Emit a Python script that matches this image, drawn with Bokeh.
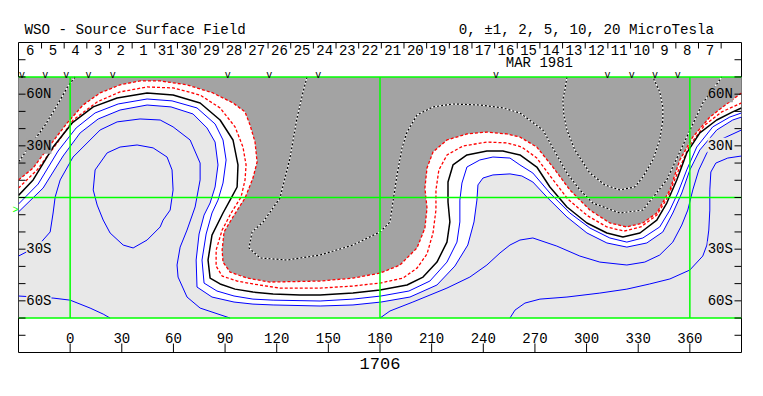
import math
from bokeh.plotting import figure
from bokeh.models import Range1d, LinearAxis, FixedTicker, BoxAnnotation, Title
from bokeh.core.properties import value
from bokeh.embed import file_html
from bokeh.resources import INLINE

# ---------------- data (Carrington longitude, latitude) ----------------
# neutral line (0 microtesla)
NEUTRAL_LON = [-30, -21.5, -9.9, 1.2, 13.4, 27.3, 44.7, 59.8, 75.5, 87.1, 94.6, 97.5, 97.0, 92.9, 88.8, 82.4, 80.1, 81.3,
               87.1, 95.8, 106.2, 117.9, 133.5, 145.2, 164.3, 180.0, 195.7, 205.0, 213.1, 218.9, 220.6, 219.5, 219.5,
               222.4, 230.5, 242.1, 251.4, 261.3, 271.1, 278.7, 288.6, 300.2, 311.8, 321.1, 331.0, 340.8, 346.6, 352.4,
               358.2, 365.8, 375.6, 384.9, 390]
NEUTRAL_LAT = [1.2, 10.2, 29.3, 43.3, 52.6, 57.8, 60.7, 59.5, 54.9, 45.0, 33.4, 18.9, 6.1, -1.5, -9.0, -21.8, -36.3, -46.8,
               -50.2, -53.2, -54.9, -56.1, -56.6, -56.6, -55.5, -53.7, -50.8, -46.2, -37.5, -25.9, -14.2, -2.6, 9.0,
               18.9, 24.7, 27.0, 27.0, 24.7, 17.7, 6.1, -5.5, -14.8, -20.6, -22.9, -20.6, -13.1, -3.2, 10.2,
               25.9, 37.5, 45.0, 49.7, 52.0]

# -1 microtesla
NEG1_LON = [-30, -19.2, -7.5, 1.7, 15.7, 29.0, 44.7, 59.8, 75.5, 87.1, 95.8, 100.4, 102.2, 101.6, 99.3, 93.5, 88.3, 84.8,
            84.8, 88.3, 97.0, 106.2, 121.9, 145.2, 164.3, 180.0, 193.3, 201.5, 207.3, 210.8, 212.5, 212.5, 214.2, 218.9,
            228.2, 242.1, 253.7, 262.4, 271.1, 279.3, 289.1, 300.7, 311.8, 321.7, 331.5, 340.8, 347.2, 353.0, 360.0,
            368.7, 378.5, 390]
NEG1_LAT = [5.5, 16.0, 31.7, 45.0, 55.5, 61.3, 64.2, 63.6, 59.5, 52.0, 41.0, 29.3, 18.9, 10.2, 0.3, -9.0, -18.9, -30.5,
            -39.8, -45.6, -48.5, -50.2, -52.6, -52.6, -51.4, -49.7, -46.8, -41.0, -32.8, -20.6, -7.3, 4.4, 16.0, 24.7,
            29.9, 32.2, 31.7, 29.3, 22.9, 11.9, -0.9, -10.7, -17.1, -19.5, -17.1, -10.2, 0.3, 14.8, 30.5,
            42.1, 49.7, 54.9]

# -2 microtesla (edge of the dark negative area)
NEG2_LON = [-30, -21.5, -11.6, -1.7, 7.5, 17.4, 29.0, 40.6, 52.3, 67.9, 83.0, 94.6, 101.6, 104.5, 107.4, 108.6, 106.2,
            101.6, 94.6, 89.4, 88.3, 88.8, 92.9, 102.8, 116.1, 145.2, 164.3, 180.0, 191.6, 201.5, 206.1, 207.3, 206.1,
            207.3, 210.8, 218.9, 230.5, 242.1, 253.7, 261.3, 271.1, 280.4, 290.3, 301.9, 313.5, 323.4, 332.7, 340.8,
            348.4, 354.2, 361.7, 371.6, 381.4, 390]
NEG2_LAT = [10.2, 17.1, 30.5, 43.3, 53.7, 60.7, 65.4, 67.7, 67.7, 65.4, 60.7, 54.9, 49.7, 42.1, 32.2, 20.6, 11.3,
            -0.3, -11.3, -20.0, -30.5, -37.5, -43.3, -46.8, -49.1, -48.5, -46.8, -43.9, -39.2, -29.3, -17.7, -6.1, 5.5,
            17.1, 26.4, 33.4, 36.9, 38.0, 36.9, 35.1, 29.3, 17.7, 4.4, -7.3, -14.8, -17.1, -14.8, -9.0,
            4.4, 21.8, 35.1, 46.7, 54.3, 60.7]

# +1 microtesla
POS1_LON = [-30, -18.6, -7.0, 3.5, 14.5, 27.9, 44.7, 59.2, 73.7, 84.2, 88.8, 90.6, 88.8, 85.9, 82.4, 79.0, 76.6, 77.8,
            85.3, 95.2, 106.2, 117.9, 145.2, 164.3, 180.6, 196.8, 209.0, 218.9, 224.7, 226.4, 226.4, 227.6, 230.5,
            238.0, 245.6, 255.5, 261.3, 268.8, 278.7, 290.3, 301.9, 313.5, 323.4, 332.7, 342.5, 348.4, 353.0, 358.2,
            364.0, 373.3, 383.2, 390]
POS1_LAT = [-3.8, 7.8, 27.0, 40.4, 49.1, 54.3, 57.2, 56.1, 52.0, 42.7, 33.4, 21.8, 8.4, -1.5, -9.0, -21.2, -36.3, -49.7,
            -54.3, -57.2, -59.0, -59.6, -60.1, -59.0, -57.2, -54.3, -48.5, -37.5, -25.9, -14.2, -1.5, 8.4, 17.7,
            21.8, 23.5, 22.9, 18.9, 14.2, 2.6, -9.0, -17.7, -23.5, -25.9, -23.5, -17.1, -7.3, 2.6, 16.0,
            29.3, 41.0, 46.7, 49.1]

# +2 microtesla (edge of the light positive area)
POS2_LON = [-30, -15.7, -4.1, 5.8, 16.3, 29.0, 44.7, 58.6, 71.4, 79.5, 84.2, 85.9, 84.2, 81.3, 77.8, 74.9, 73.2, 73.7,
            82.4, 95.2, 106.2, 117.9, 145.2, 164.3, 180.6, 197.4, 213.1, 223.5, 231.0, 234.6, 236.3, 236.9, 239.8,
            245.6, 255.5, 262.4, 268.8, 276.9, 288.6, 300.2, 311.8, 323.4, 335.0, 344.3, 350.1, 355.3, 360.0, 365.8,
            375.6, 384.9, 390]
POS2_LAT = [-8.4, 5.5, 24.1, 37.5, 45.6, 50.8, 53.7, 52.6, 48.5, 40.4, 32.2, 18.9, 6.1, -3.2, -10.2, -21.2, -36.3, -52.0,
            -57.8, -60.7, -61.9, -62.4, -63.0, -62.4, -60.7, -57.8, -50.8, -39.8, -27.6, -14.2, -1.5, 7.3, 11.3,
            13.1, 13.7, 12.5, 9.0, 0.3, -11.3, -20.6, -26.4, -28.8, -26.4, -20.0, -9.0, 2.6, 16.0, 27.6,
            39.2, 45.0, 46.7]

# +5 microtesla, western arc and eastern branch
POS5W_LON = [-30, -23.2, -16.8, -11.6, -9.9, -8.7, -5.8, 1.7, 17.4, 27.3, 40.6, 52.3, 59.8, 69.7, 75.5, 75.5, 72.6,
             67.9, 63.9, 62.1, 62.7, 67.9, 75.5, 92.9]
POS5W_LAT = [-34.0, -30.5, -25.9, -20.0, -9.0, 0.3, 10.2, 23.5, 39.2, 43.9, 45.6, 45.0, 41.0, 33.4, 20.0, 10.2, -5.5,
             -18.9, -28.8, -39.2, -46.2, -57.8, -64.2, -70.0]
POS5E_LON = [180.0, 185.8, 199.1, 218.9, 232.2, 242.1, 249.7, 255.5, 261.3, 268.8, 282.7, 296.1, 307.7, 323.4, 333.8,
             342.5, 350.1, 355.3, 358.8, 361.7, 365.2, 369.9, 377.4, 390]
POS5E_LAT = [-70.0, -65.9, -60.7, -52.6, -46.2, -39.2, -32.2, -27.6, -24.7, -23.5, -28.2, -34.0, -37.5, -39.2, -37.5,
             -33.4, -25.9, -16.0, -7.3, 4.4, 16.0, 25.9, 33.4, 39.2]

# +10 microtesla: closed loop, south-west piece, eastern piece
POS10L_LON = [38.9, 48.2, 56.3, 59.2, 59.8, 58.1, 54.0, 52.3, 44.7, 36.6, 30.8, 23.2, 19.2, 15.7, 13.4, 14.5, 21.5,
              29.0, 38.9]
POS10L_LAT = [30.5, 28.8, 23.5, 16.0, 4.4, -7.3, -13.1, -17.1, -24.7, -29.3, -27.6, -20.6, -13.1, -4.4, 4.4, 16.0,
              25.9, 29.3, 30.5]
POS10SW_LON = [-30, -20.3, -9.9, 0.0, 11.6, 19.2, 23.2]
POS10SW_LAT = [-57.2, -57.8, -58.4, -59.6, -64.2, -67.7, -70.0]
POS10E_LON = [390, 382.0, 375.1, 372.2, 371.6, 371.6, 371.0, 369.9, 367.5, 360.0, 348.4, 336.7, 323.4, 307.7, 288.6,
              272.9, 264.2, 258.4, 255.5]
POS10E_LAT = [24.1, 22.9, 20.0, 14.8, 4.4, -7.3, -18.9, -27.6, -34.0, -42.1, -47.3, -50.2, -53.2, -55.5, -57.8,
              -59.0, -61.3, -65.4, -70.0]

# -5 microtesla (two pieces) and -10 microtesla
NEG5W_LON = [2.9, -1.2, -5.8, -9.9, -14.5, -20.3, -25.0, -30]
NEG5W_LAT = [70.0, 64.8, 56.6, 49.7, 42.1, 34.0, 27.6, 20.6]
NEG5C_LON = [137.6, 135.3, 131.8, 127.7, 121.9, 112.1, 105.7, 103.9, 110.3, 126.0, 145.2, 164.3, 180.0, 185.8, 187.5,
             189.9, 192.8, 195.7, 201.5, 210.8, 222.4, 238.0, 251.4, 261.3, 274.6, 288.6, 296.1, 303.6, 319.3, 332.7,
             346.6, 358.2, 367.5, 377.4, 378.5]
NEG5C_LAT = [70.0, 61.3, 46.2, 22.9, -0.3, -14.2, -20.0, -29.3, -35.1, -36.3, -33.4, -27.6, -20.0, -14.2, -2.6,
             13.1, 28.8, 38.0, 47.9, 52.6, 54.3, 53.7, 52.0, 49.1, 39.2, 14.2, 4.4, -3.2, -9.0, -7.3,
             10.2, 35.1, 54.9, 68.3, 70.0]
NEG10_LON = [288.6, 287.4, 286.2, 286.8, 288.6, 293.2, 301.9, 310.6, 319.3, 328.0, 332.7, 338.5, 342.5, 344.3, 344.3,
             342.5, 338.5]
NEG10_LAT = [70.0, 62.4, 56.6, 47.9, 39.2, 27.6, 14.2, 7.3, 4.4, 6.1, 11.9, 21.8, 33.4, 45.0, 52.6, 61.3, 70.0]

# axes, calendar and observation marks
LAT_TICKS = [-80, -70, -60, -50, -40, -30, -20, -10, 0, 10, 20, 30, 40, 50, 60, 70, 80]
LON_TICKS = [0, 30, 60, 90, 120, 150, 180, 210, 240, 270, 300, 330, 360]
LON_TICK_LABELS = [str(t) for t in LON_TICKS]
LAT_LABEL_VALUES = [60, 30, -30, -60]
LAT_LABELS = ["60N", "30N", "30S", "60S"]
GRID_LONS = [0, 180, 360]
GRID_LATS = [-70, 0, 70]
DAYS = ["6", "5", "4", "3", "2", "1", "31", "30", "29", "28", "27", "26", "25", "24", "23", "22",
        "21", "20", "19", "18", "17", "16", "15", "14", "13", "12", "11", "10", "9", "8", "7"]
DAY0_LON = -23.2      # longitude under the first day label
DEG_PER_DAY = 13.16
OBS_LON = [-28.0, -14.5, -2.3, 10.6, 24.8, 91.6, 115.7, 144.2, 247.4, 312.2, 326.2, 339.7, 352.9]
EARTH_LAT = -7.3
MONTH = "MAR 1981"
MONTH_LON = 272.6
ROTATION = "1706"
TITLE_LEFT = "WSO - Source Surface Field"
TITLE_RIGHT = "0, \u00b11, 2, 5, 10, 20 MicroTesla"

# ---------------- figure ----------------
LON_MIN, LON_MAX = -30, 390
LAT_MIN, LAT_MAX = -90, 90
MAP_LAT = 70
DARK = "#a3a3a3"
LIGHT = "#e8e8e8"
GREEN = "#00ff00"
BLUE = "#0000ff"
RED = "#ff0000"
FONT = "Liberation Mono"

p = figure(frame_width=723, frame_height=310,
           x_range=Range1d(LON_MIN, LON_MAX), y_range=Range1d(LAT_MIN, LAT_MAX),
           output_backend="svg", toolbar_location=None, title=None,
           x_axis_location=None, y_axis_location=None,
           min_border_left=18, min_border_right=12, min_border_top=42, min_border_bottom=32)
p.xgrid.visible = False
p.ygrid.visible = False
p.background_fill_color = "white"
p.border_fill_color = "white"
p.outline_line_color = "black"
p.outline_line_width = 1

# shading
p.add_layout(BoxAnnotation(bottom=-MAP_LAT, top=MAP_LAT, fill_color=LIGHT, fill_alpha=1.0,
                           line_color=None, level="underlay"))
p.patch(POS2_LON + [LON_MAX, LON_MIN], POS2_LAT + [MAP_LAT, MAP_LAT], fill_color="white", line_color=None)
p.patch(NEG2_LON + [LON_MAX, LON_MIN], NEG2_LAT + [MAP_LAT, MAP_LAT], fill_color=DARK, line_color=None)

# contours
for xs, ys in [(POS1_LON, POS1_LAT), (POS2_LON, POS2_LAT), (POS5W_LON, POS5W_LAT), (POS5E_LON, POS5E_LAT),
               (POS10L_LON, POS10L_LAT), (POS10SW_LON, POS10SW_LAT), (POS10E_LON, POS10E_LAT)]:
    p.line(xs, ys, line_color=BLUE, line_width=1)
for xs, ys in [(NEG1_LON, NEG1_LAT), (NEG2_LON, NEG2_LAT)]:
    p.line(xs, ys, line_color=RED, line_width=1.3, line_dash="3 2")
for xs, ys in [(NEG5W_LON, NEG5W_LAT), (NEG5C_LON, NEG5C_LAT), (NEG10_LON, NEG10_LAT)]:
    p.line(xs, ys, line_color="white", line_width=1.2)
    p.line(xs, ys, line_color="black", line_width=1.2, line_dash="2 2")
p.line(NEUTRAL_LON, NEUTRAL_LAT, line_color="black", line_width=1.5)

# green reference lines
p.segment(x0=GRID_LONS, y0=-MAP_LAT, x1=GRID_LONS, y1=MAP_LAT, line_color=GREEN, line_width=1.5)
p.segment(x0=LON_MIN, y0=GRID_LATS, x1=LON_MAX, y1=GRID_LATS, line_color=GREEN, line_width=1.5)

# ticks on the inside of the frame (lengths in screen pixels)
p.ray(x=LON_MIN, y=LAT_TICKS, length=7, length_units="screen", angle=0, line_color="black", line_width=1)
p.ray(x=LON_MAX, y=LAT_TICKS, length=7, length_units="screen", angle=math.pi, line_color="black", line_width=1)
p.ray(x=LON_TICKS, y=LAT_MIN, length=9, length_units="screen", angle=math.pi / 2, line_color="black", line_width=1)
day_lons = [DAY0_LON + DEG_PER_DAY * i for i in range(len(DAYS))]
sep_lons = [d + DEG_PER_DAY / 2 for d in day_lons]
p.ray(x=sep_lons, y=LAT_MAX, length=6, length_units="screen", angle=-math.pi / 2, line_color="black", line_width=1)

# Earth latitude marker on the left edge
earth_axis = LinearAxis(ticker=FixedTicker(ticks=[EARTH_LAT], minor_ticks=[]),
                        major_label_overrides={EARTH_LAT: ">"},
                        major_tick_line_color=None, minor_tick_line_color=None, axis_line_color=None,
                        major_tick_in=0, major_tick_out=0, minor_tick_in=0, minor_tick_out=0,
                        major_label_text_color=GREEN, major_label_text_font_size="10px",
                        major_label_text_font=FONT, major_label_standoff=0)
p.add_layout(earth_axis, "left")

txt = dict(text_font=value(FONT), text_color="black")
# longitude labels
p.text(x=LON_TICKS, y=-81.3, text=LON_TICK_LABELS, text_align="center", text_baseline="middle",
       text_font_size="14px", **txt)
# calendar
p.text(x=day_lons, y=85.9, text=DAYS, text_align="center", text_baseline="middle", text_font_size="14px", **txt)
p.text(x=[MONTH_LON], y=78.1, text=[MONTH], text_align="center", text_baseline="middle", text_font_size="14px", **txt)
p.text(x=OBS_LON, y=70.6, text=["v"] * len(OBS_LON), text_align="center", text_baseline="alphabetic",
       text_font_size="10px", **txt)

# latitude labels (with a background of the region they sit on)
left_bg = [DARK, DARK, LIGHT, LIGHT]
right_bg = [DARK, LIGHT, LIGHT, LIGHT]
for lat, lab, bgl, bgr in zip(LAT_LABEL_VALUES, LAT_LABELS, left_bg, right_bg):
    p.text(x=[-25.5], y=[lat], text=[lab], text_align="left", text_baseline="middle", text_font_size="14px",
           background_fill_color=bgl, **txt)
    p.text(x=[385.0], y=[lat], text=[lab], text_align="right", text_baseline="middle", text_font_size="14px",
           background_fill_color=bgr, **txt)

# titles: one line above (two parts separated by non-breaking spaces), rotation number below
top_title = Title(text=TITLE_LEFT + "\u00a0" * 25 + TITLE_RIGHT, align="left", offset=6, standoff=10,
                  text_font=FONT, text_font_size="14.2px", text_font_style="normal", text_color="black")
p.add_layout(top_title, "above")
bottom_title = Title(text=ROTATION, align="center", standoff=6, text_font=FONT, text_font_size="17px",
                     text_font_style="normal", text_color="black")
p.add_layout(bottom_title, "below")

open("out.html", "w").write(file_html(p, INLINE))
